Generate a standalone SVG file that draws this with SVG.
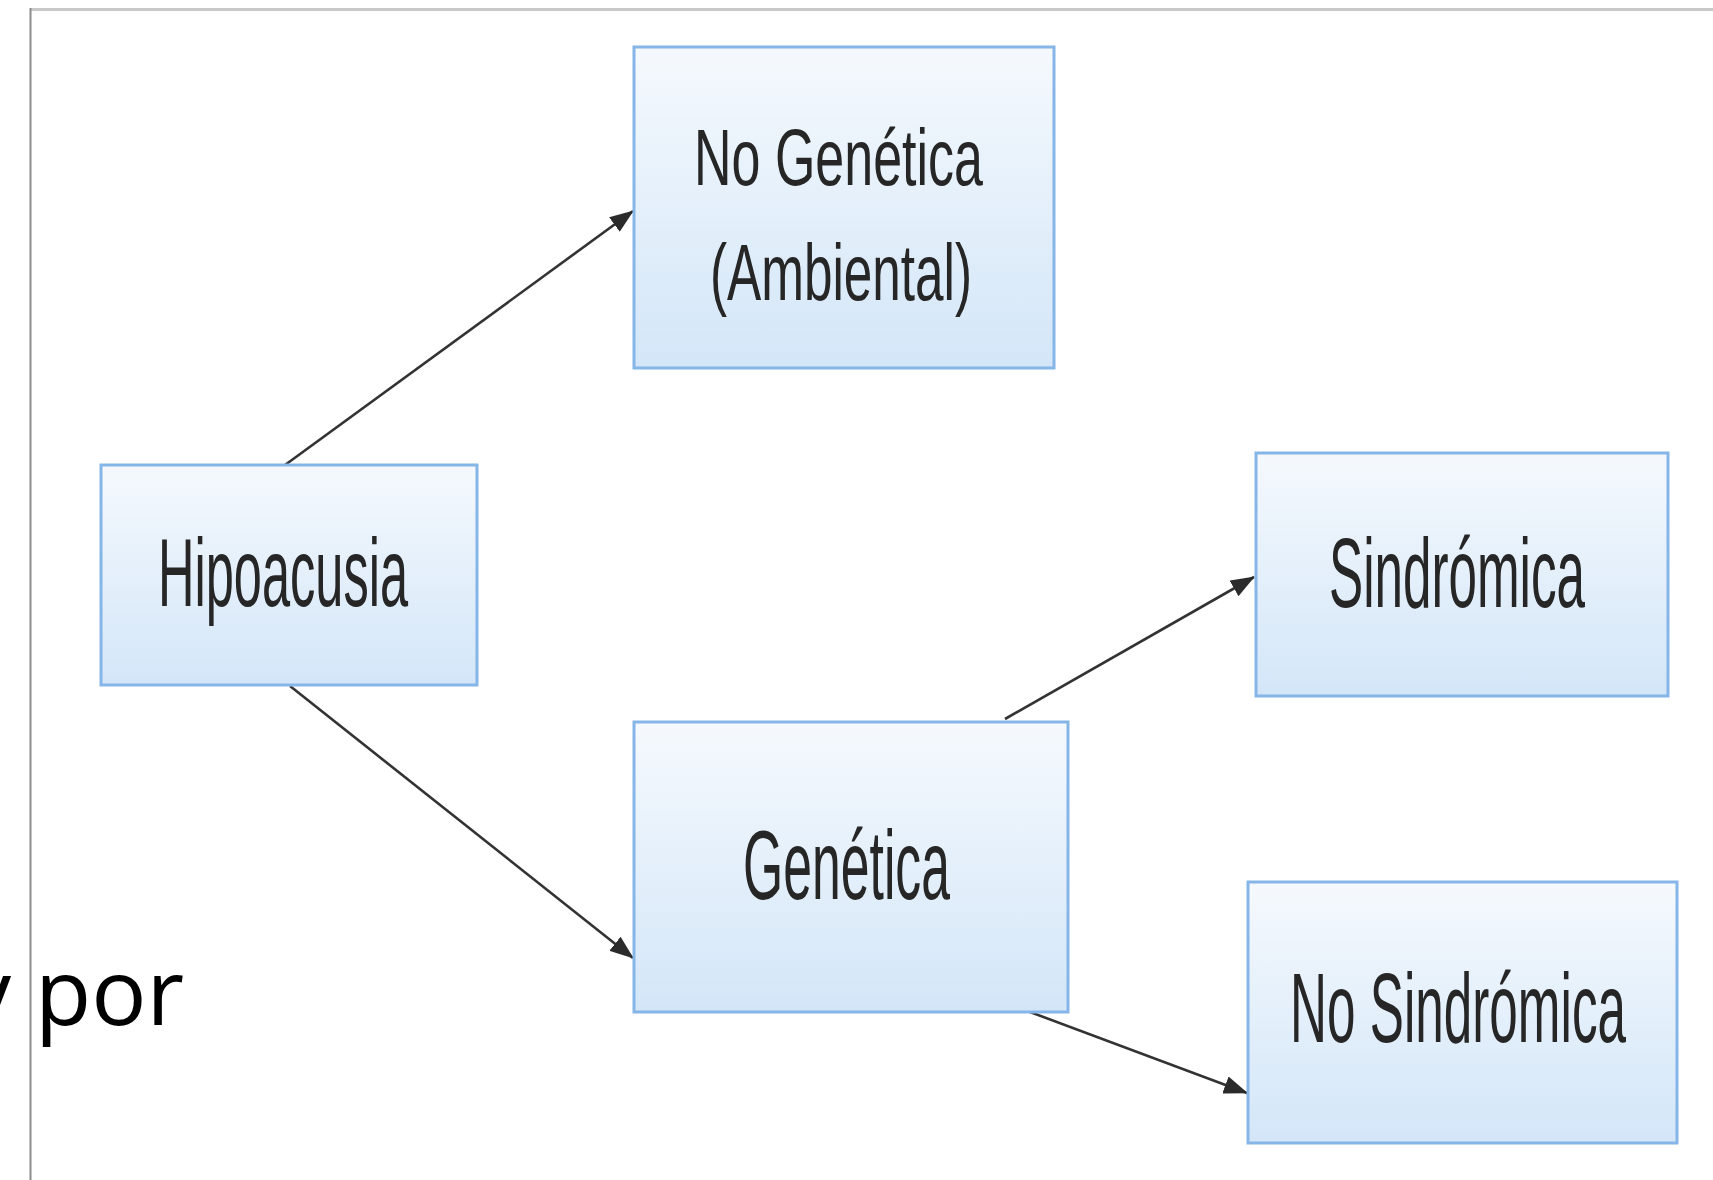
<svg xmlns="http://www.w3.org/2000/svg" width="1713" height="1180" viewBox="0 0 1713 1180">
<style>
.box{fill:url(#g);stroke:#86b5e8;stroke-width:3}
.lbl{font-family:"Liberation Sans",Arial,sans-serif;fill:#262626}
.edge{stroke:#333;stroke-width:2.6;fill:none;marker-end:url(#ah)}
.page{font-family:"Open Sans","Noto Sans",sans-serif;font-size:92px;fill:#000}
</style>
<defs>
<linearGradient id="g" x1="0" y1="0" x2="0" y2="1">
<stop offset="0" stop-color="#f5f9fd"/>
<stop offset="1" stop-color="#d3e6f8"/>
</linearGradient>
<marker id="ah" viewBox="0 0 24 18" refX="23" refY="9" markerWidth="24" markerHeight="18" markerUnits="userSpaceOnUse" orient="auto">
<path d="M0,0 L24,9 L0,18 z" fill="#2b2b2b"/>
</marker>
</defs>
<rect x="0" y="0" width="1713" height="1180" fill="#fff"/>
<text class="page" x="-35" y="1025">y por</text>
<line x1="30" y1="9.5" x2="1713" y2="9.5" stroke="#c8c8c8" stroke-width="3"/>
<line x1="30.5" y1="8" x2="30.5" y2="1180" stroke="#8c8c8c" stroke-width="2"/>
<g id="connectors">
<line class="edge" x1="285" y1="465" x2="633" y2="211"/>
<line class="edge" x1="290" y1="686" x2="633" y2="958"/>
<line class="edge" x1="1005" y1="719" x2="1254" y2="577"/>
<line class="edge" x1="1022" y1="1009" x2="1247" y2="1093"/>
</g>
<g id="hipoacusia">
<rect class="box" x="101" y="465" width="376" height="220"/>
<text class="lbl" x="158" y="606" font-size="96" textLength="250" lengthAdjust="spacingAndGlyphs">Hipoacusia</text>
</g>
<g id="no-genetica">
<rect class="box" x="634" y="47" width="420" height="321"/>
<text class="lbl" x="694" y="185" font-size="80" textLength="289" lengthAdjust="spacingAndGlyphs">No Genética</text>
<text class="lbl" x="710" y="300" font-size="80" textLength="262" lengthAdjust="spacingAndGlyphs">(Ambiental)</text>
</g>
<g id="genetica">
<rect class="box" x="634" y="722" width="434" height="290"/>
<text class="lbl" x="743" y="899" font-size="98" textLength="207" lengthAdjust="spacingAndGlyphs">Genética</text>
</g>
<g id="sindromica">
<rect class="box" x="1256" y="453" width="412" height="243"/>
<text class="lbl" x="1329" y="607" font-size="98" textLength="256" lengthAdjust="spacingAndGlyphs">Sindrómica</text>
</g>
<g id="no-sindromica">
<rect class="box" x="1248" y="882" width="429" height="261"/>
<text class="lbl" x="1290" y="1042" font-size="98" textLength="336" lengthAdjust="spacingAndGlyphs">No Sindrómica</text>
</g>
</svg>
